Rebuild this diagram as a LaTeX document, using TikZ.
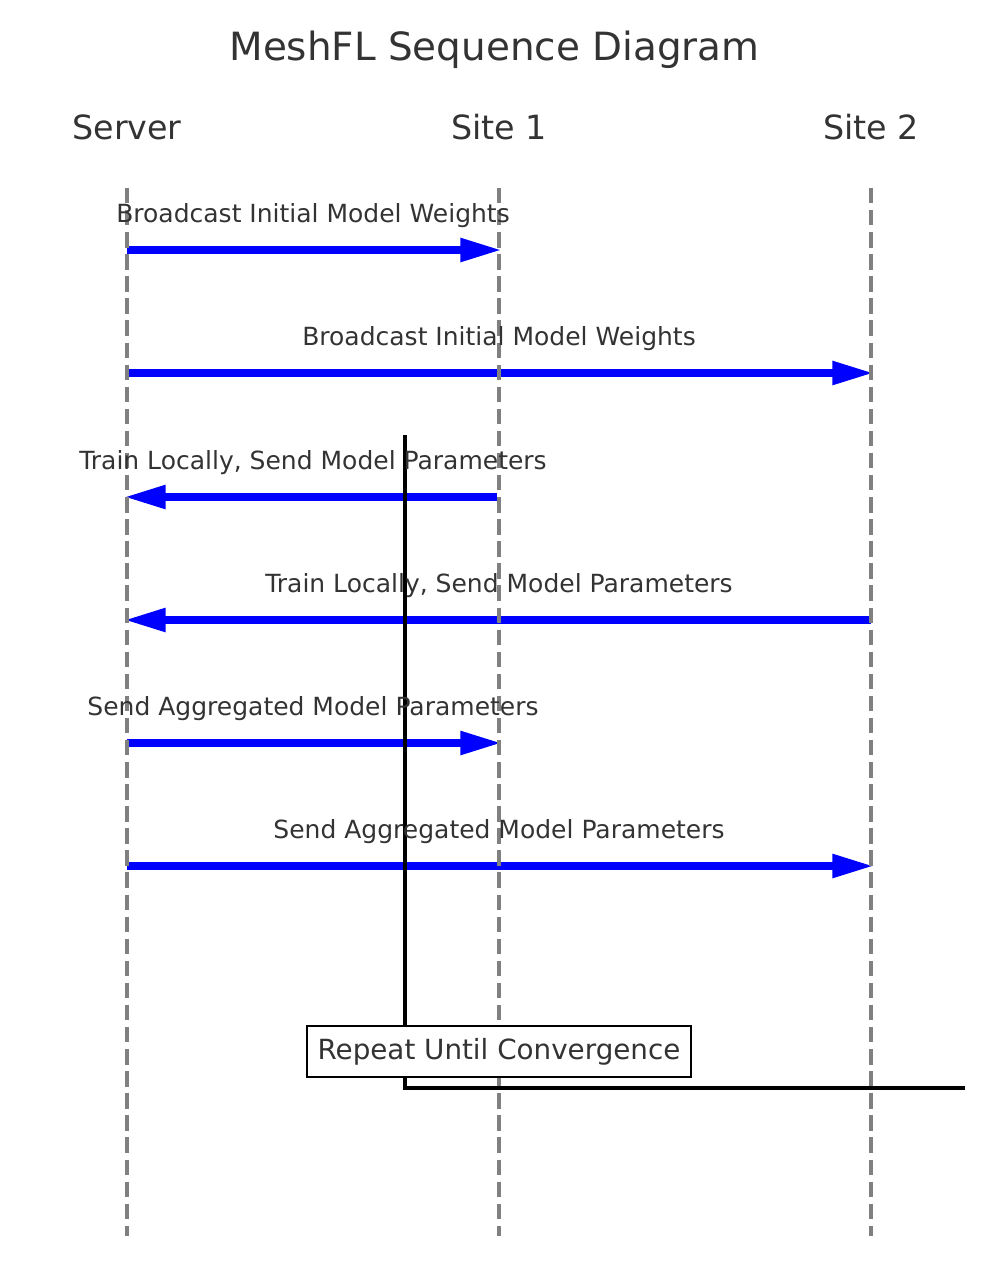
\documentclass[tikz,border=0pt]{standalone}
\usepackage{fontspec}
\setmainfont{DejaVu Sans}
\usetikzlibrary{arrows.meta}
\definecolor{txt}{HTML}{333333}
\definecolor{life}{HTML}{808080}
\begin{document}
\begin{tikzpicture}[x=0.75pt,y=-0.75pt,
 lifeline/.style={draw=life,line width=3.125pt,dash pattern=on 11.56pt off 5pt},
 msg/.style={draw=blue,line width=6.2pt,shorten >=-2.5pt,-{Triangle[length=31.5pt,width=16.5pt]}},
 msglabel/.style={text=txt,font=\fontsize{18.75}{22}\selectfont,anchor=base,inner sep=0pt},
 actor/.style={text=txt,font=\fontsize{25}{30}\selectfont,anchor=base,inner sep=0pt},
 titlestyle/.style={text=txt,font=\fontsize{29.17}{35}\selectfont,anchor=base,inner sep=0pt},
 loopline/.style={draw=black,line width=2.6pt,line join=miter},
 loopbox/.style={draw=black,fill=white,line width=1.5pt,text=txt,font=\fontsize{20.83}{25}\selectfont,minimum width=288pt,minimum height=38.25pt,inner sep=0pt}]
\useasboundingbox (0,0) rectangle (996,1286);
\node[titlestyle] (title) at (494.5,60) {MeshFL Sequence Diagram};
\node[actor] (server) at (127,139) {Server};
\node[actor] (site1) at (499,139) {Site 1};
\node[actor] (site2) at (871,139) {Site 2};
% lifeline endpoints
\coordinate (srvtop) at (127,188); \coordinate (srvbot) at (127,1236);
\coordinate (s1top) at (499,188); \coordinate (s1bot) at (499,1236);
\coordinate (s2top) at (871,188); \coordinate (s2bot) at (871,1236);
% message endpoints
\coordinate (m1a) at (127,250); \coordinate (m1b) at (499,250);
\coordinate (m2a) at (127,373); \coordinate (m2b) at (871,373);
\coordinate (m3a) at (497,497); \coordinate (m3b) at (127,497);
\coordinate (m4a) at (871,620); \coordinate (m4b) at (127,620);
\coordinate (m5a) at (127,743); \coordinate (m5b) at (499,743);
\coordinate (m6a) at (127,866); \coordinate (m6b) at (871,866);
% messages
\draw[msg] (m1a) -- (m1b);
\draw[msg] (m2a) -- (m2b);
\draw[msg] (m3a) -- (m3b);
\draw[msg] (m4a) -- (m4b);
\draw[msg] (m5a) -- (m5b);
\draw[msg] (m6a) -- (m6b);
% lifelines
\draw[lifeline] (srvtop) -- (srvbot);
\draw[lifeline] (s1top) -- (s1bot);
\draw[lifeline] (s2top) -- (s2bot);
% loop marker
\coordinate (looptop) at (405,435);
\coordinate (loopcorner) at (405,1088);
\coordinate (loopend) at (965,1088);
\draw[loopline] (looptop) -- (loopcorner) -- (loopend);
\node[loopbox] (repeat) at (499,1051.5) {Repeat Until Convergence};
% labels
\node[msglabel] (l1) at (313,222) {Broadcast Initial Model Weights};
\node[msglabel] (l2) at (499,345) {Broadcast Initial Model Weights};
\node[msglabel] (l3) at (313,469) {Train Locally, Send Model Parameters};
\node[msglabel] (l4) at (499,592) {Train Locally, Send Model Parameters};
\node[msglabel] (l5) at (313,715) {Send Aggregated Model Parameters};
\node[msglabel] (l6) at (499,838) {Send Aggregated Model Parameters};
\end{tikzpicture}
\end{document}
